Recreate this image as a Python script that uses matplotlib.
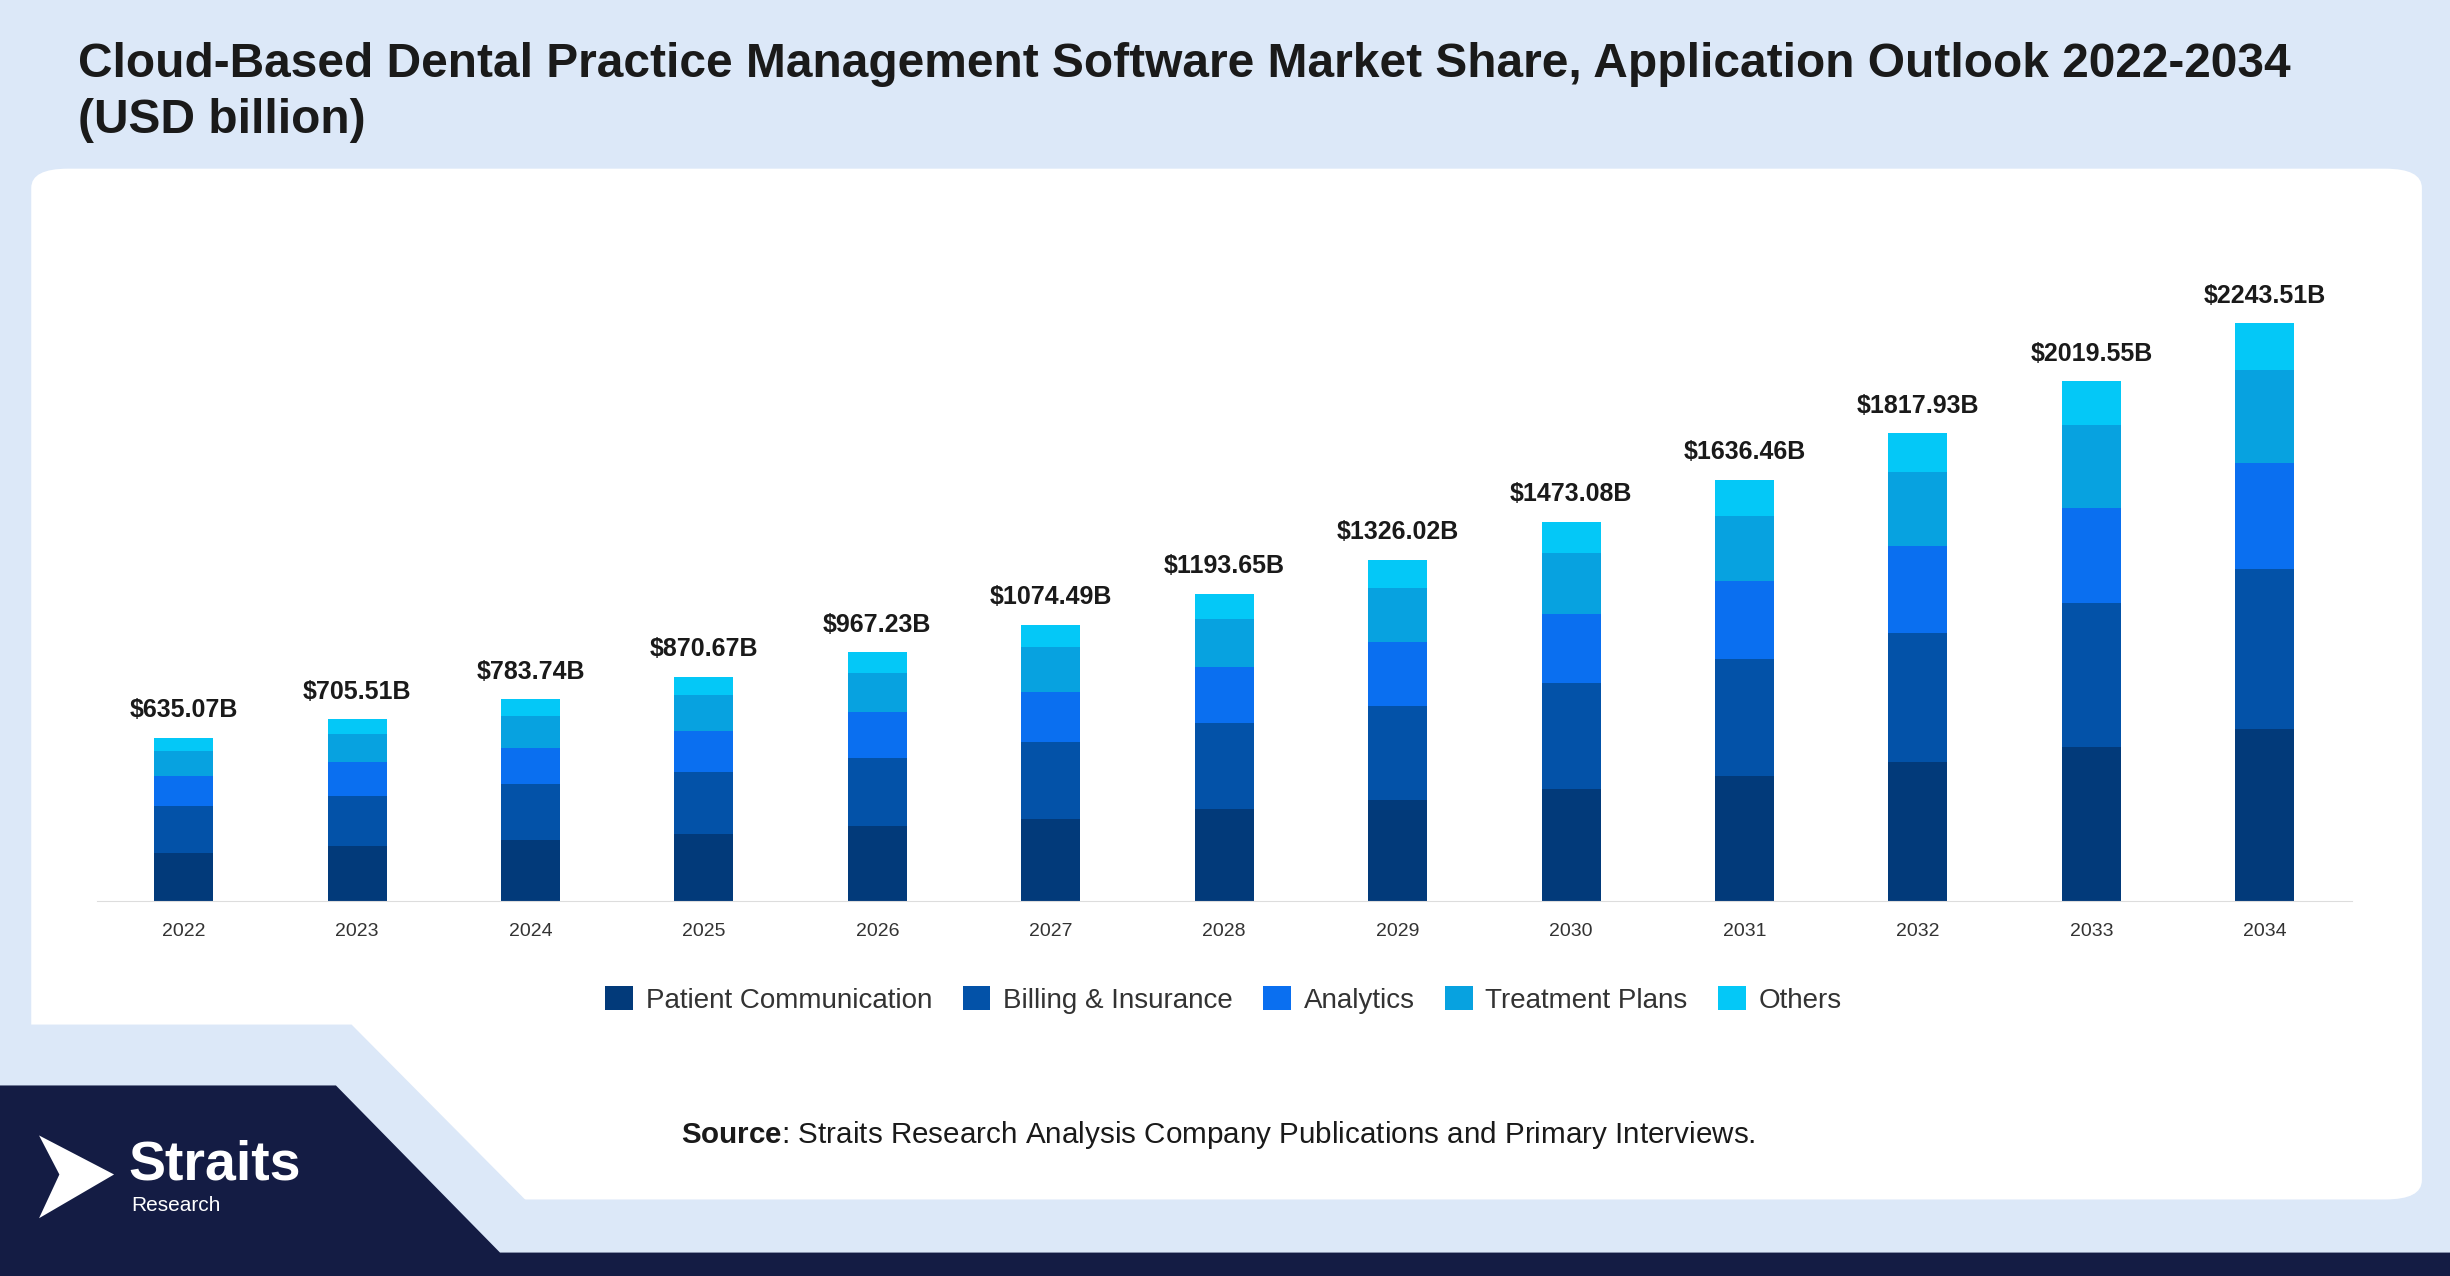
#!/usr/bin/env python3
"""Stacked bar chart: cloud-based dental practice management software market by application."""

import matplotlib.pyplot as plt
import numpy as np
from matplotlib.patches import FancyBboxPatch, Polygon

plt.rcParams["font.family"] = ["Liberation Sans", "DejaVu Sans"]
plt.rcParams["mathtext.fontset"] = "custom"
plt.rcParams["mathtext.bf"] = "Liberation Sans:bold"
plt.rcParams["mathtext.rm"] = "Liberation Sans"

years = ["2022", "2023", "2024", "2025", "2026", "2027", "2028",
         "2029", "2030", "2031", "2032", "2033", "2034"]
totals = [635.07, 705.51, 783.74, 870.67, 967.23, 1074.49, 1193.65,
          1326.02, 1473.08, 1636.46, 1817.93, 2019.55, 2243.51]
patient = [188, 213, 236, 260, 290, 321, 358, 394, 436, 485, 539, 600, 667]
billing = [182, 195, 218, 242, 267, 297, 333, 364, 412, 454, 503, 558, 624]
analytics = [115, 134, 139, 158, 176, 194, 218, 248, 267, 303, 339, 370, 412]
treatment = [97, 109, 127, 139, 152, 176, 188, 212, 236, 255, 285, 321, 358]
others = [53, 55, 64, 72, 82, 86, 97, 108, 122, 139, 152, 170, 183]

series = [
    ("Patient Communication", patient, "#023a7a"),
    ("Billing & Insurance", billing, "#0352a8"),
    ("Analytics", analytics, "#0a6ff0"),
    ("Treatment Plans", treatment, "#07a2e0"),
    ("Others", others, "#04c8f7"),
]


def main() -> None:
    fig = plt.figure(figsize=(24.5, 12.76), dpi=100)
    bg = "#dce8f8"
    fig.patch.set_facecolor(bg)
    W, H = 1568, 817

    def fx(x):
        return x / W

    def fy(y):
        return 1 - y / H

    # white panel
    fig.patches.append(FancyBboxPatch(
        (fx(20), fy(768)), fx(1530), fy(108) - fy(768),
        boxstyle="round,pad=0,rounding_size=0.015",
        transform=fig.transFigure, facecolor="white", edgecolor="none", zorder=1))
    # cut the panel's bottom-left corner
    fig.patches.append(Polygon(
        [(fx(0), fy(656)), (fx(225), fy(656)), (fx(338), fy(770)),
         (fx(0), fy(770))],
        closed=True, transform=fig.transFigure, facecolor=bg,
        edgecolor="none", zorder=1.5))
    # dark footer
    fig.patches.append(Polygon(
        [(fx(0), fy(695)), (fx(215), fy(695)), (fx(320), fy(802)),
         (fx(1568), fy(802)), (fx(1568), fy(817)), (fx(0), fy(817))],
        closed=True, transform=fig.transFigure, facecolor="#141c44",
        edgecolor="none", zorder=2))
    # logo
    fig.patches.append(Polygon(
        [(fx(25), fy(727)), (fx(73), fy(752)), (fx(25), fy(780)),
         (fx(38), fy(752))],
        closed=True, transform=fig.transFigure, facecolor="white",
        edgecolor="none", zorder=3))
    fig.text(fx(82), fy(746), "Straits", color="white", fontsize=40,
             fontweight="bold", va="center", zorder=4)
    fig.text(fx(84), fy(772), "Research", color="white", fontsize=15,
             va="center", zorder=4)

    fig.text(fx(50), fy(59), "Cloud-Based Dental Practice Management Software Market Share, "
             "Application Outlook 2022-2034\n(USD billion)", fontsize=34.5,
             fontweight="bold", color="#1a1a1a", va="center", linespacing=1.32)
    fig.text(fx(436), fy(727), r"$\bf{Source}$: Straits Research Analysis Company "
             "Publications and Primary Interviews.", fontsize=21.3,
             color="#1a1a1a", va="center", zorder=4)

    ax = fig.add_axes([fx(62), fy(577), fx(1505) - fx(62), fy(150) - fy(577)], zorder=5)
    ax.set_facecolor("none")
    x = np.arange(len(years))
    bottom = np.zeros(len(years))
    for name, vals, color in series:
        ax.bar(x, vals, 0.34, bottom=bottom, color=color, label=name)
        bottom += np.array(vals)
    for xi, t, b in zip(x, totals, bottom):
        ax.text(xi, b + 60, f"${t:.2f}B", ha="center", va="bottom",
                fontsize=18, fontweight="bold", color="#1a1a1a")

    ax.set_xlim(-0.5, len(years) - 0.5)
    ax.set_ylim(0, 2590)
    ax.set_xticks(x, years)
    ax.set_yticks([])
    for s in ["top", "right", "left"]:
        ax.spines[s].set_visible(False)
    ax.spines["bottom"].set_color("#dddddd")
    ax.tick_params(axis="x", length=0, pad=16, labelsize=14, labelcolor="#333333")

    handles, labels = ax.get_legend_handles_labels()
    fig.legend(handles, labels, loc="center", bbox_to_anchor=(fx(783), fy(640)),
               ncol=5, frameon=False, fontsize=20, handlelength=1.0,
               handleheight=1.0, columnspacing=1.1, handletextpad=0.45,
               labelcolor="#333333")

    fig.savefig("out.png", dpi=100, facecolor=fig.get_facecolor())


if __name__ == "__main__":
    main()
